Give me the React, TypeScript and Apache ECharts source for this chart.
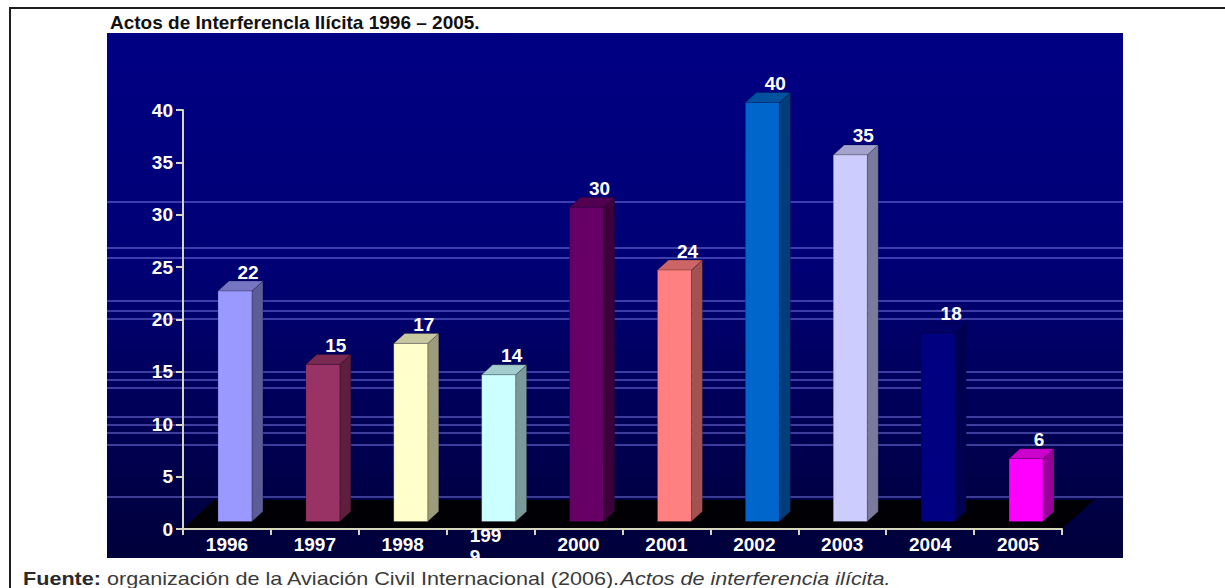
import React, { useEffect, useRef } from "react";
import * as echarts from "echarts";

const TITLE = "Actos de Interferencla Ilícita 1996 – 2005.";
const CAPTION_BOLD = "Fuente:";
const CAPTION_REGULAR = " organización de la Aviación Civil Internacional (2006).";
const CAPTION_ITALIC = "Actos de interferencia ilícita.";

const years = ["1996", "1997", "1998", "1999", "2000", "2001", "2002", "2003", "2004", "2005"];
const incidents = [22, 15, 17, 14, 30, 24, 40, 35, 18, 6];
const yTicks = [0, 5, 10, 15, 20, 25, 30, 35, 40];

const frontColors = ["#9999ff", "#993366", "#ffffcc", "#ccffff", "#660066", "#ff8080", "#0066cc", "#ccccff", "#000080", "#ff00ff"];
const sideColors = ["#5c5c99", "#5e1f3f", "#9c9c7c", "#7a9a9a", "#3d003d", "#a35252", "#003d7a", "#7a7a9c", "#000052", "#990099"];
const topColors = ["#7575c2", "#7a2950", "#c9c9a0", "#a3cccc", "#520052", "#cc6666", "#00529e", "#a3a3cc", "#000066", "#cc00cc"];

// decorative horizontal guide lines (pixel rows of the background artwork)
const GUIDE_ROWS = [202, 248, 258, 301, 311, 319, 372, 380, 388, 417, 425, 433, 445, 497];

const FONT = "'Liberation Sans', Arial, sans-serif";

const GRID = { left: 183, top: 110, right: 163, bottom: 59 };
const BAR_W = 34;
const SHIFT_X = 8;
const SHIFT_Y = -7.5;
const DEPTH_X = 11;
const DEPTH_Y = 10;

export default function App() {
  const ref = useRef<HTMLDivElement>(null);

  useEffect(() => {
    if (!ref.current) return;
    const chart = echarts.init(ref.current, null, { renderer: "svg" });

    const guideLines = GUIDE_ROWS.map((y) => ({
      type: "line",
      z: -9,
      shape: { x1: 107, y1: y, x2: 1123, y2: y },
      style: { stroke: "#7b7be6", lineWidth: 1 },
      silent: true,
    }));

    const option: any = {
      animation: false,
      backgroundColor: "#ffffff",
      grid: { ...GRID, containLabel: false },
      graphic: [
        {
          type: "rect",
          z: -20,
          shape: { x: 10, y: 8, width: 1300, height: 700 },
          style: { fill: "none", stroke: "#1e1e1e", lineWidth: 2 },
          silent: true,
        },
        {
          type: "rect",
          z: -10,
          shape: { x: 107, y: 33, width: 1016, height: 525 },
          style: {
            fill: new echarts.graphic.LinearGradient(0, 0, 0, 1, [
              { offset: 0, color: "#000084" },
              { offset: 0.45, color: "#000074" },
              { offset: 1, color: "#00003a" },
            ]),
          },
          silent: true,
        },
        ...guideLines,
        {
          type: "polygon",
          z: -8,
          shape: { points: [[183, 529], [1062, 529], [1094, 500], [214, 500]] },
          style: { fill: "rgba(0,0,0,0.92)" },
          silent: true,
        },
        {
          type: "text",
          z: 10,
          x: 110,
          y: 22.5,
          style: {
            text: TITLE,
            fontFamily: FONT,
            fontSize: 19,
            fontWeight: "bold",
            fill: "#111111",
            align: "left",
            verticalAlign: "middle",
          },
        },
        {
          type: "text",
          z: 10,
          x: 23,
          y: 579,
          scaleX: 1.2,
          style: {
            text: `{b|${CAPTION_BOLD}}{r|${CAPTION_REGULAR}}{i|${CAPTION_ITALIC}}`,
            fontFamily: FONT,
            fontSize: 18,
            fill: "#333333",
            align: "left",
            verticalAlign: "middle",
            rich: {
              b: { fontFamily: FONT, fontSize: 18, fontWeight: "bold", fill: "#2a2a2a" },
              r: { fontFamily: FONT, fontSize: 18, fill: "#3a3a3a" },
              i: { fontFamily: FONT, fontSize: 18, fontStyle: "italic", fill: "#3a3a3a" },
            },
          },
        },
      ],
      xAxis: {
        type: "category",
        data: years.map((y) =>
          y === "1999"
            ? { value: y, textStyle: { verticalAlign: "middle", padding: [21, 10, 0, 0] } }
            : y
        ),
        boundaryGap: true,
        axisLine: { show: true, lineStyle: { color: "#d6d6bc", width: 2 } },
        axisTick: { show: true, interval: 0, length: 6, lineStyle: { color: "#d6d6bc", width: 2 } },
        axisLabel: {
          interval: 0,
          margin: 6,
          color: "#ffffff",
          fontFamily: FONT,
          fontSize: 19,
          fontWeight: "bold",
          formatter: (v: string) => (v === "1999" ? "{a|199}\n{b|9}" : v),
          rich: {
            a: { color: "#ffffff", fontFamily: FONT, fontSize: 19, fontWeight: "bold", lineHeight: 21, width: 32, align: "left" },
            b: { color: "#ffffff", fontFamily: FONT, fontSize: 19, fontWeight: "bold", lineHeight: 21, width: 32, align: "left" },
          },
        },
        splitLine: { show: false },
        z: 5,
      },
      yAxis: {
        type: "value",
        min: yTicks[0],
        max: yTicks[yTicks.length - 1],
        interval: yTicks[1] - yTicks[0],
        axisLine: { show: true, lineStyle: { color: "#d6d6bc", width: 2 } },
        axisTick: { show: true, inside: false, length: 7, lineStyle: { color: "#d6d6bc", width: 2 } },
        axisLabel: {
          margin: 10,
          color: "#ffffff",
          fontFamily: FONT,
          fontSize: 19,
          fontWeight: "bold",
        },
        splitLine: { show: false },
        z: 5,
      },
      series: [
        {
          type: "custom",
          z: 3,
          data: incidents.map((v, i) => [i, v]),
          encode: { x: 0, y: 1 },
          renderItem: (params: any, api: any) => {
            const idx = api.value(0);
            const val = api.value(1);
            const base = api.coord([idx, 0]);
            const top = api.coord([idx, val]);
            const cx = base[0] + SHIFT_X;
            const by = base[1] + SHIFT_Y;
            const ty = top[1] + SHIFT_Y;
            const x0 = cx - BAR_W / 2;
            const x1 = cx + BAR_W / 2;
            return {
              type: "group",
              children: [
                {
                  type: "polygon",
                  shape: { points: [[x1, by], [x1 + DEPTH_X, by - DEPTH_Y], [x1 + DEPTH_X, ty - DEPTH_Y], [x1, ty]] },
                  style: { fill: sideColors[idx], stroke: "rgba(0,0,0,0.35)", lineWidth: 0.6 },
                },
                {
                  type: "polygon",
                  shape: { points: [[x0, ty], [x0 + DEPTH_X, ty - DEPTH_Y], [x1 + DEPTH_X, ty - DEPTH_Y], [x1, ty]] },
                  style: { fill: topColors[idx], stroke: "rgba(0,0,0,0.35)", lineWidth: 0.6 },
                },
                {
                  type: "rect",
                  shape: { x: x0, y: ty, width: BAR_W, height: by - ty },
                  style: { fill: frontColors[idx], stroke: "rgba(0,0,0,0.35)", lineWidth: 0.6 },
                },
                {
                  type: "text",
                  style: {
                    text: String(val),
                    x: x1 - 4,
                    y: ty - DEPTH_Y - 9,
                    align: "center",
                    verticalAlign: "middle",
                    fill: "#ffffff",
                    fontFamily: FONT,
                    fontSize: 19,
                    fontWeight: "bold",
                  },
                },
              ],
            };
          },
        },
      ],
    };

    chart.setOption(option);
    return () => chart.dispose();
  }, []);

  return (
    <div
      ref={ref}
      style={{ position: "absolute", left: 0, top: 0, width: 1225, height: 588, background: "#fff" }}
    />
  );
}
